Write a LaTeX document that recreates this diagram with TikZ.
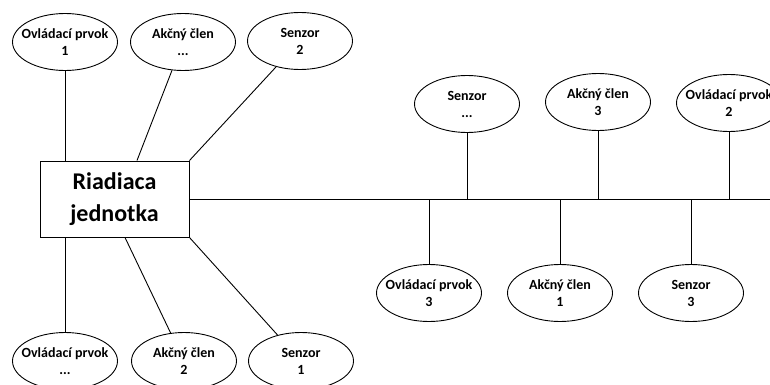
\documentclass[tikz,border=0pt]{standalone}
\usepackage{fontspec}
\setmainfont{Carlito}
\usetikzlibrary{shapes.geometric,positioning,calc}
\tikzset{
  elem/.style={ellipse, draw, line width=0.9pt, minimum width=105pt, minimum height=57pt,
    inner xsep=-9pt, inner ysep=0pt, align=center, font=\fontsize{14}{17}\selectfont\bfseries},
  ctrl/.style={rectangle, draw, line width=0.9pt, minimum width=149pt, minimum height=76pt,
    align=center, font=\fontsize{24}{32}\selectfont\bfseries},
  wire/.style={line width=0.9pt, black},
}

\begin{document}
\begin{tikzpicture}[x=1pt,y=-1pt]
  \useasboundingbox (0,0) rectangle (770,385);
  % control unit
  \node[ctrl] (rj) at (114.5,199) {Riadiaca\\jednotka};
  % star part, top
  \node[elem] (op1) at (65,42) {Ovládací prvok\\1};
  \node[elem] (ak0) at (183,42) {Akčný člen\\...};
  \node[elem] (se2) at (300,41) {Senzor\\2};
  % star part, bottom
  \node[elem] (op0) at (65,361) {Ovládací prvok\\...};
  \node[elem] (ak2) at (184,361) {Akčný člen\\2};
  \node[elem] (se1) at (301,361) {Senzor\\1};
  % bus part, top
  \node[elem] (se0) at (467,104) {Senzor\\...};
  \node[elem] (ak3) at (598,102) {Akčný člen\\3};
  \node[elem] (op2) at (729,103) {Ovládací prvok\\2};
  % bus part, bottom
  \node[elem] (op3) at (429,293) {Ovládací prvok\\3};
  \node[elem] (ak1) at (560,293) {Akčný člen\\1};
  \node[elem] (se3) at (691,293) {Senzor\\3};
  % star wires
  \coordinate (t1) at ($(rj.north west)!0.65!(rj.north east)$);
  \coordinate (b1) at ($(rj.south west)!0.57!(rj.south east)$);
  \draw[wire] (op1) -- (op1 |- rj.north);
  \draw[wire] (ak0) -- (t1);
  \draw[wire] (se2) -- (rj.north east);
  \draw[wire] (op0) -- (op0 |- rj.south);
  \draw[wire] (ak2) -- (b1);
  \draw[wire] (se1) -- (rj.south east);
  % bus line
  \coordinate (busend) at (770,199);
  \draw[wire] (rj.east) -- (busend);
  \foreach \n in {se0,ak3,op2,op3,ak1,se3}
    \draw[wire] (\n) -- (\n |- rj.east);
\end{tikzpicture}
\end{document}
